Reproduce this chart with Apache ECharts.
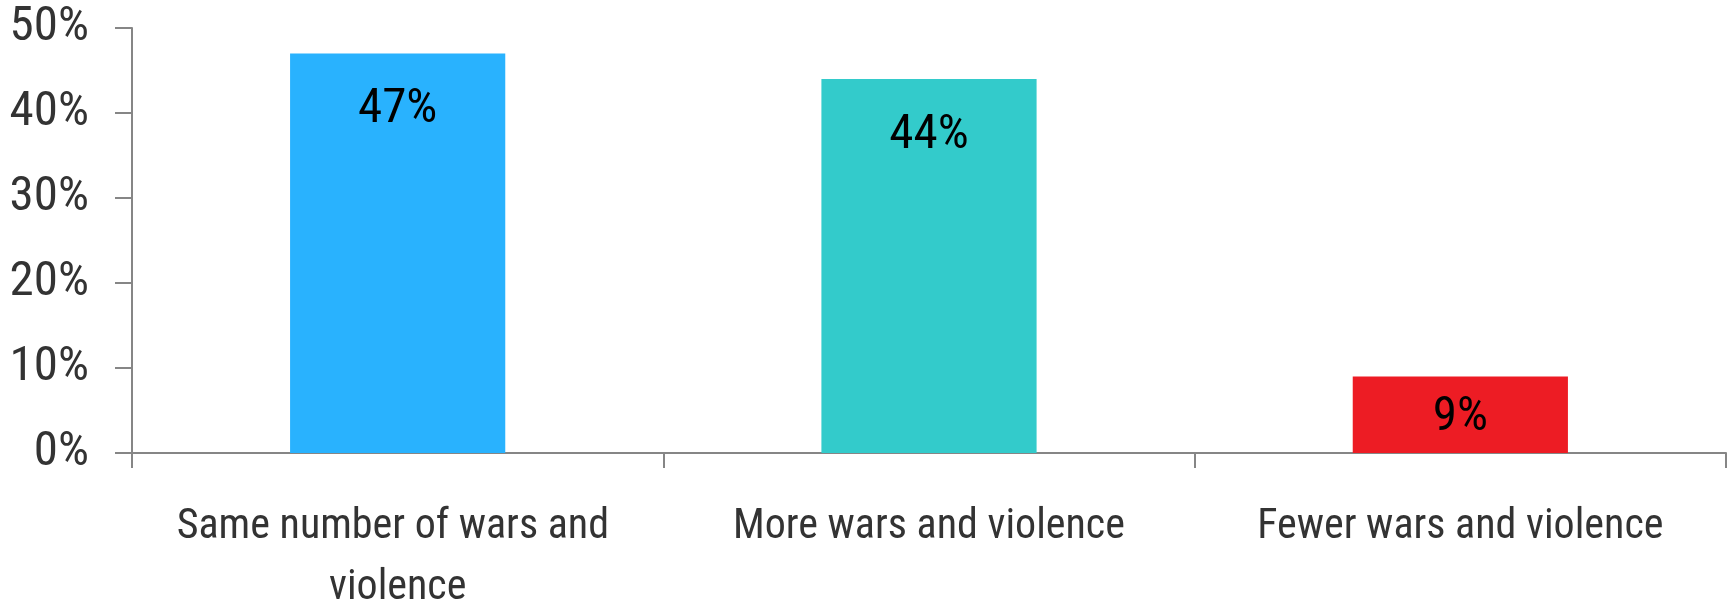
<!DOCTYPE html>
<html>
<head>
<meta charset="utf-8">
<script src="https://cdn.jsdelivr.net/npm/echarts@6/dist/echarts.min.js"></script>
<style>
html,body{margin:0;padding:0;background:#fff;}
#chart{width:1729px;height:605px;}
</style>
</head>
<body>
<div id="chart"></div>
<script>
const categories = ['Same number of wars and violence', 'More wars and violence', 'Fewer wars and violence'];
const values = [47, 44, 9];
const barColors = ['#29B2FE', '#33CBCB', '#ED1C24'];
const yTicks = [0, 10, 20, 30, 40, 50];

const FONT = '"Roboto Condensed", "Liberation Sans Narrow", "Arial Narrow", sans-serif';
const chart = echarts.init(document.getElementById('chart'), null, {renderer: 'canvas'});

const option = {
  animation: false,
  grid: {left: 132, right: 3, top: 28, bottom: 152, containLabel: false, outerBoundsMode: 'none'},
  xAxis: {
    type: 'category',
    data: categories,
    axisLine: {show: true, lineStyle: {color: '#868686', width: 2}},
    axisTick: {show: true, length: 15, alignWithLabel: false, lineStyle: {color: '#868686', width: 2}},
    axisLabel: {
      interval: 0,
      margin: 44,
      color: '#333333',
      fontFamily: FONT,
      fontSize: 42,
      lineHeight: 61,
      width: 470,
      overflow: 'break'
    },
    splitLine: {show: false}
  },
  yAxis: {
    type: 'value',
    min: yTicks[0],
    max: yTicks[yTicks.length - 1],
    interval: 10,
    axisLine: {show: true, lineStyle: {color: '#868686', width: 2}},
    axisTick: {show: true, length: 17, lineStyle: {color: '#868686', width: 2}},
    splitLine: {show: false},
    axisLabel: {
      margin: 43,
      color: '#333333',
      fontFamily: FONT,
      fontSize: 49,
      formatter: v => v + '%'
    }
  },
  series: [{
    type: 'bar',
    barWidth: '40.5%',
    data: values.map((v, i) => ({
      value: v,
      itemStyle: {color: barColors[i]},
      label: i === 2 ? {distance: 17} : undefined
    })),
    label: {
      show: true,
      position: 'insideTop',
      distance: 32,
      color: '#000000',
      fontFamily: FONT,
      fontSize: 49,
      formatter: p => p.value + '%'
    }
  }]
};
chart.setOption(option);
</script>
</body>
</html>
